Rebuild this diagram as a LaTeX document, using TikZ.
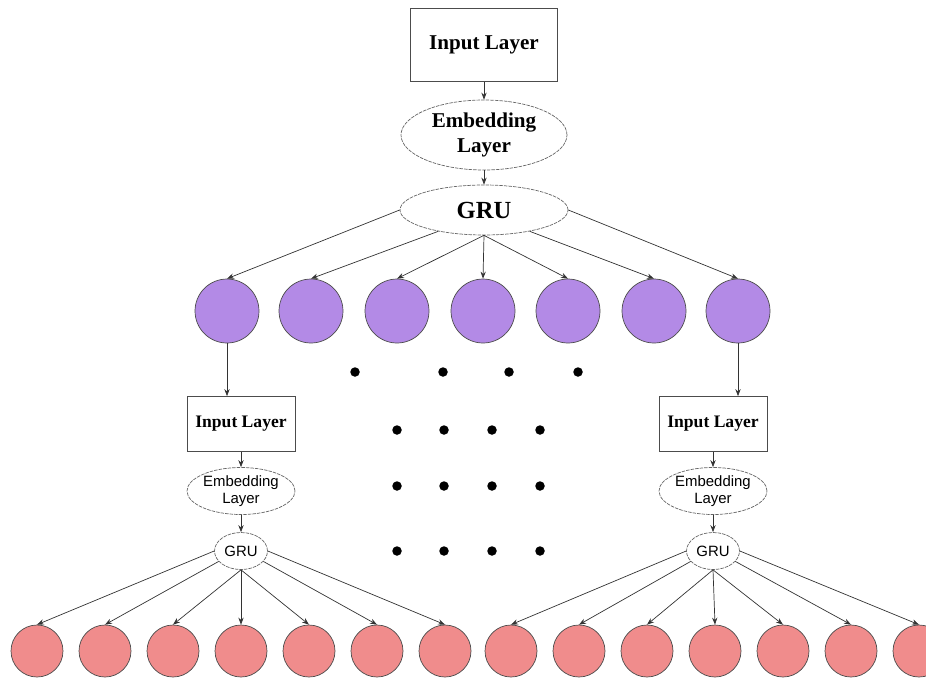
\documentclass[tikz,border=0pt]{standalone}
\usepackage{fontspec}
\setmainfont{Liberation Serif}
\setsansfont{Liberation Sans}
\usetikzlibrary{shapes.geometric,arrows.meta}
\definecolor{violetU}{HTML}{B38AE6}
\definecolor{salmonU}{HTML}{F08C8C}

\begin{document}
\begin{tikzpicture}[x=0.02cm,y=-0.02cm,
    layerbox/.style={draw=black!70,thin,inner sep=0pt},
    layeroval/.style={ellipse,draw=black!60,thin,dash pattern=on 2pt off 0.6pt,inner sep=0pt,align=center},
    unit/.style={circle,draw=black!70,thin,inner sep=0pt,minimum size=#1},
    arr/.style={-{Stealth[length=4pt,width=3pt]},black!80,thin},
    dot/.style={circle,fill=black,inner sep=0pt,minimum size=0.19cm}]
  \useasboundingbox (0,0) rectangle (926,680);
  \clip (0,0) rectangle (926,680);

  % top branch
  \node[layerbox,minimum width=2.94cm,minimum height=1.46cm,font=\bfseries\fontsize{12}{14}\selectfont] (inTop) at (484,45) {Input Layer};
  \node[layeroval,minimum width=3.32cm,minimum height=1.4cm,font=\bfseries\fontsize{12}{14.5}\selectfont] (embTop) at (484,135) {Embedding\\Layer};
  \node[layeroval,minimum width=3.36cm,minimum height=1cm,font=\bfseries\fontsize{14}{16}\selectfont] (gruTop) at (484,210) {GRU};
  \draw[arr] (inTop) -- (embTop);
  \draw[arr] (embTop) -- (gruTop);

  \foreach \x/\a [count=\i] in {227/west,311/205,397/south,483/south,568/south,654/-25,738/east}{
    \node[unit=1.28cm,fill=violetU] (p\i) at (\x,311) {};
    \draw[arr] (gruTop.\a) -- (p\i.north);
  }

  % left branch
  \node[layerbox,minimum width=2.16cm,minimum height=1.1cm,font=\bfseries\fontsize{10}{12}\selectfont] (inL) at (241,424) {Input Layer};
  \node[layeroval,minimum width=2.16cm,minimum height=0.94cm,font=\sffamily\fontsize{8.5}{10}\selectfont] (embL) at (241,491) {Embedding\\Layer};
  \node[layeroval,minimum width=1.06cm,minimum height=0.74cm,font=\sffamily\fontsize{8.5}{10}\selectfont] (gruL) at (241,551) {GRU};
  \draw[arr] (p1.south) -- (p1.south |- inL.north);
  \draw[arr] (inL) -- (embL);
  \draw[arr] (embL) -- (gruL);

  % right branch
  \node[layerbox,minimum width=2.16cm,minimum height=1.1cm,font=\bfseries\fontsize{10}{12}\selectfont] (inR) at (713,424) {Input Layer};
  \node[layeroval,minimum width=2.16cm,minimum height=0.94cm,font=\sffamily\fontsize{8.5}{10}\selectfont] (embR) at (713,491) {Embedding\\Layer};
  \node[layeroval,minimum width=1.06cm,minimum height=0.74cm,font=\sffamily\fontsize{8.5}{10}\selectfont] (gruR) at (713,551) {GRU};
  \draw[arr] (p7.south) -- (p7.south |- inR.north);
  \draw[arr] (inR) -- (embR);
  \draw[arr] (embR) -- (gruR);

  \foreach \a [count=\i] in {west,205,south,south,south,-25,east}{
    \node[unit=1.04cm,fill=salmonU] (qL\i) at ({37+68*(\i-1)},651) {};
    \draw[arr] (gruL.\a) -- (qL\i.north);
    \node[unit=1.04cm,fill=salmonU] (qR\i) at ({511+68*(\i-1)},651) {};
    \draw[arr] (gruR.\a) -- (qR\i.north);
  }

  % dots
  \foreach \x [count=\c] in {355,443,509,578}{
    \node[dot] (d0\c) at (\x,372) {};
  }
  \foreach \y [count=\r] in {430,486,551}{
    \foreach \x [count=\c] in {397,444,492,540}{
      \node[dot] (d\r\c) at (\x,\y) {};
    }
  }
\end{tikzpicture}
\end{document}
